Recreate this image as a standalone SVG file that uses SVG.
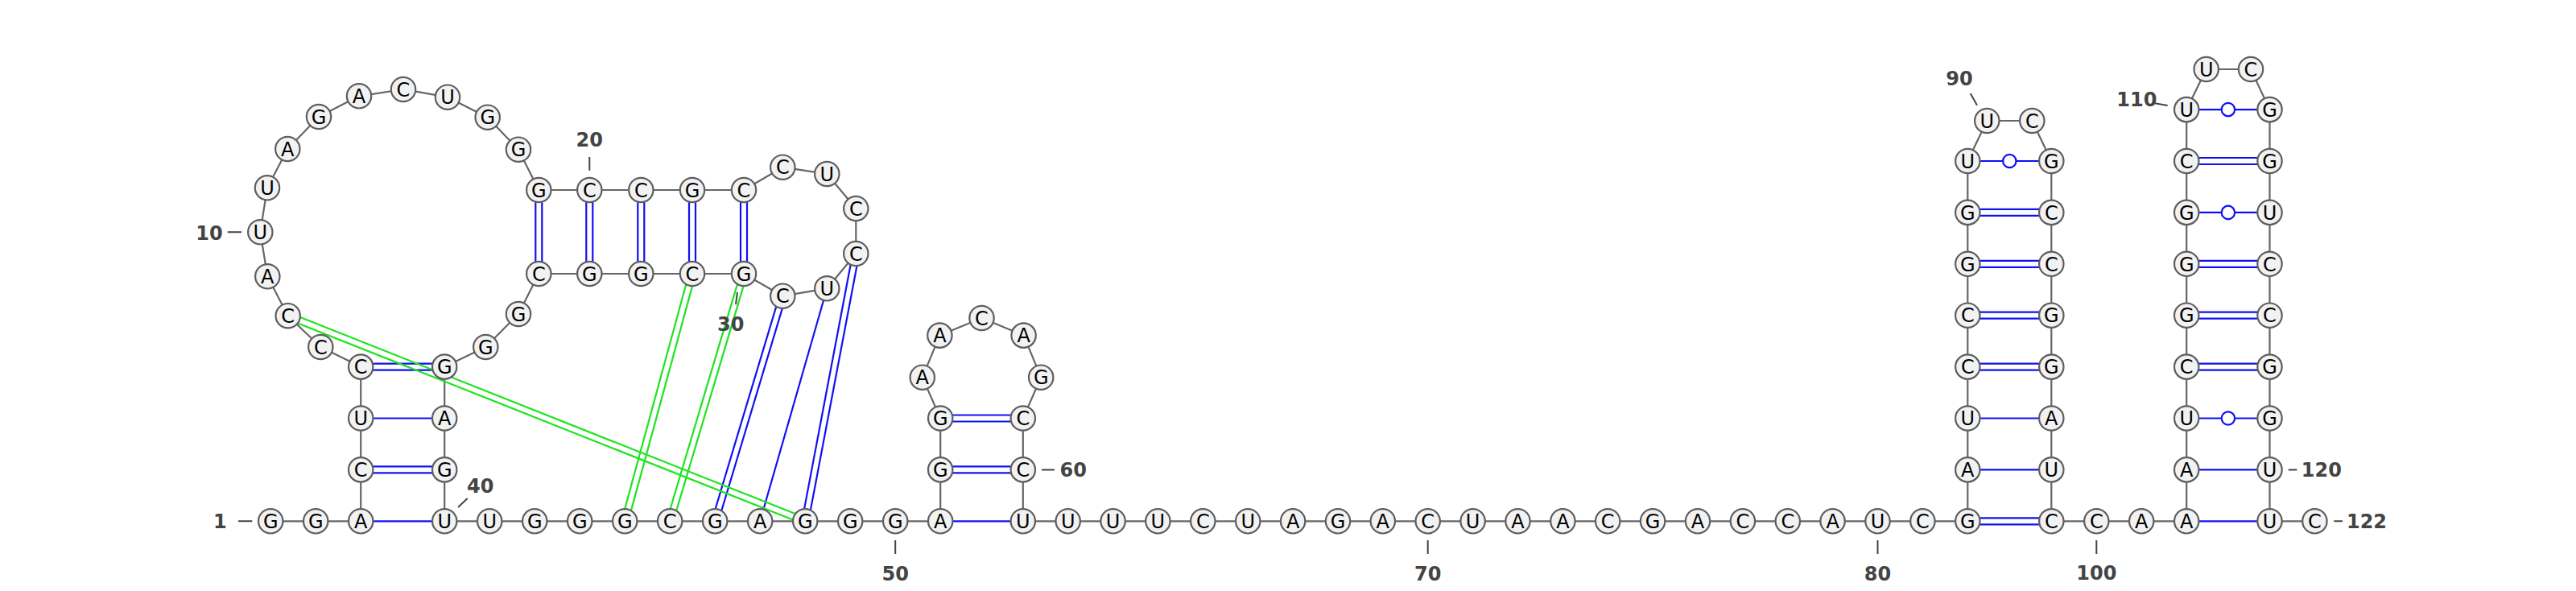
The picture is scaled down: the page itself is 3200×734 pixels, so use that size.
<svg xmlns="http://www.w3.org/2000/svg" width="3200" height="734" viewBox="0 0 3200 734">
<style>
.bb{fill:none;stroke:#666;stroke-width:2.2;stroke-linejoin:round}
.bp{stroke:#1010f5;stroke-width:2.2;fill:none}
.pk{stroke:#1ee41e;stroke-width:2.2;fill:none}
.wb{fill:#fff;stroke:#1010f5;stroke-width:2.2}
.tk{stroke:#444;stroke-width:2;fill:none}
.nt circle{fill:#f2f2f2;stroke:#5e5e5e;stroke-width:2.2}
.nt text{font-family:"DejaVu Sans",sans-serif;font-size:24px;text-anchor:middle;fill:#000}
.lb{font-family:"DejaVu Sans",sans-serif;font-size:24px;font-weight:bold;text-anchor:middle;fill:#444}
</style>
<rect width="3200" height="734" fill="#fff"/>
<g id="connectors">
<path class="bb" d="M336.2,647.3 L448.2,647.3 L448.2,455.6 L398.3,431 L357.7,392.2 L332.3,343.3 L323.3,288.3 L332,233.3 L357.3,185 L396,145 L446,119.3 L501,111 L556,120.7 L605.7,145.7 L644,185.7 L669.3,236 L924,236 L972.3,207.7 L1027.3,216 L1063.3,259 L1063.3,315 L1027.3,358.3 L972.3,367.7 L924,340 L669.3,340 L644,390 L603.3,431 L552.2,455.6 L552.2,647.3 L1168.2,647.3 L1168.2,519.5 L1145.8,468.7 L1167.4,416.6 L1219.5,395 L1271.6,416.6 L1293.2,468.7 L1270.8,519.5 L1270.8,647.3 L2444.3,647.3 L2444.3,200 L2468.3,150 L2524.3,150 L2548.3,200 L2548.3,647.3 L2716.2,647.3 L2716.2,136.1 L2740.7,86 L2796,86 L2819.5,136.1 L2819.5,647.3 L2875.4,647.3"/>
<g id="pairs">
<path class="bp" d="M448.2,647.3H552.2"/>
<path class="bp" d="M448.2,579.4H552.2M448.2,587.4H552.2"/>
<path class="bp" d="M448.2,519.5H552.2"/>
<path class="bp" d="M448.2,451.6H552.2M448.2,459.6H552.2"/>
<path class="bp" d="M665.3,236V340M673.3,236V340"/>
<path class="bp" d="M728.3,236V340M736.3,236V340"/>
<path class="bp" d="M792.3,236V340M800.3,236V340"/>
<path class="bp" d="M856,236V340M864,236V340"/>
<path class="bp" d="M920,236V340M928,236V340"/>
<path class="bp" d="M1168.2,647.3H1270.8"/>
<path class="bp" d="M1168.2,579.4H1270.8M1168.2,587.4H1270.8"/>
<path class="bp" d="M1168.2,515.5H1270.8M1168.2,523.5H1270.8"/>
<path class="bp" d="M2444.3,643.3H2548.3M2444.3,651.3H2548.3"/>
<path class="bp" d="M2444.3,583.4H2548.3"/>
<path class="bp" d="M2444.3,519.5H2548.3"/>
<path class="bp" d="M2444.3,451.6H2548.3M2444.3,459.6H2548.3"/>
<path class="bp" d="M2444.3,387.7H2548.3M2444.3,395.7H2548.3"/>
<path class="bp" d="M2444.3,323.8H2548.3M2444.3,331.8H2548.3"/>
<path class="bp" d="M2444.3,259.9H2548.3M2444.3,267.9H2548.3"/>
<path class="bp" d="M2444.3,200H2548.3"/>
<circle class="wb" cx="2496.3" cy="200" r="8.2"/>
<path class="bp" d="M2716.2,647.3H2819.5"/>
<path class="bp" d="M2716.2,583.4H2819.5"/>
<path class="bp" d="M2716.2,519.5H2819.5"/>
<circle class="wb" cx="2767.9" cy="519.5" r="8.2"/>
<path class="bp" d="M2716.2,451.6H2819.5M2716.2,459.6H2819.5"/>
<path class="bp" d="M2716.2,387.7H2819.5M2716.2,395.7H2819.5"/>
<path class="bp" d="M2716.2,323.8H2819.5M2716.2,331.8H2819.5"/>
<path class="bp" d="M2716.2,263.9H2819.5"/>
<circle class="wb" cx="2767.9" cy="263.9" r="8.2"/>
<path class="bp" d="M2716.2,196H2819.5M2716.2,204H2819.5"/>
<path class="bp" d="M2716.2,136.1H2819.5"/>
<circle class="wb" cx="2767.9" cy="136.1" r="8.2"/>
<path class="bp" d="M1067.2,315.7L1004.1,648M1059.4,314.3L996.3,646.6"/>
<path class="bp" d="M1027.3,358.3L944.2,647.3"/>
<path class="bp" d="M976.1,368.9L892,648.5M968.5,366.6L884.4,646.2"/>
<path class="pk" d="M927.8,341.1L836,648.4M920.2,338.9L828.4,646.2"/>
<path class="pk" d="M863.9,341.1L780.1,648.4M856.1,339L772.3,646.3"/>
<path class="pk" d="M356.2,395.9L998.7,651M359.2,388.5L1001.7,643.6"/>
</g>
<g id="ticks">
<path class="tk" d="M296,647.3H313.3M282.7,288.3H300M732.3,195V211.7M916,363L914,378M569,630L580.7,619M1112.2,671V688M1294,583.4H1310M1773.7,671V688M2332.5,671V688M2447.7,116L2456,130.7M2604.3,671V688M2676.7,128.3L2692.7,131M2842.7,583.4H2853.3M2899.3,647.3H2910"/>
</g>
</g>
<g id="nodes">
<g id="n1" class="nt"><circle cx="336.2" cy="647.3" r="15.2"/><text x="336.2" y="656">G</text></g>
<g id="n2" class="nt"><circle cx="392.2" cy="647.3" r="15.2"/><text x="392.2" y="656">G</text></g>
<g id="n3" class="nt"><circle cx="448.2" cy="647.3" r="15.2"/><text x="448.2" y="656">A</text></g>
<g id="n4" class="nt"><circle cx="448.2" cy="583.4" r="15.2"/><text x="448.2" y="592.1">C</text></g>
<g id="n5" class="nt"><circle cx="448.2" cy="519.5" r="15.2"/><text x="448.2" y="528.2">U</text></g>
<g id="n6" class="nt"><circle cx="448.2" cy="455.6" r="15.2"/><text x="448.2" y="464.3">C</text></g>
<g id="n7" class="nt"><circle cx="398.3" cy="431" r="15.2"/><text x="398.3" y="439.7">C</text></g>
<g id="n8" class="nt"><circle cx="357.7" cy="392.2" r="15.2"/><text x="357.7" y="400.9">C</text></g>
<g id="n9" class="nt"><circle cx="332.3" cy="343.3" r="15.2"/><text x="332.3" y="352">A</text></g>
<g id="n10" class="nt"><circle cx="323.3" cy="288.3" r="15.2"/><text x="323.3" y="297">U</text></g>
<g id="n11" class="nt"><circle cx="332" cy="233.3" r="15.2"/><text x="332" y="242">U</text></g>
<g id="n12" class="nt"><circle cx="357.3" cy="185" r="15.2"/><text x="357.3" y="193.7">A</text></g>
<g id="n13" class="nt"><circle cx="396" cy="145" r="15.2"/><text x="396" y="153.7">G</text></g>
<g id="n14" class="nt"><circle cx="446" cy="119.3" r="15.2"/><text x="446" y="128">A</text></g>
<g id="n15" class="nt"><circle cx="501" cy="111" r="15.2"/><text x="501" y="119.7">C</text></g>
<g id="n16" class="nt"><circle cx="556" cy="120.7" r="15.2"/><text x="556" y="129.4">U</text></g>
<g id="n17" class="nt"><circle cx="605.7" cy="145.7" r="15.2"/><text x="605.7" y="154.4">G</text></g>
<g id="n18" class="nt"><circle cx="644" cy="185.7" r="15.2"/><text x="644" y="194.4">G</text></g>
<g id="n19" class="nt"><circle cx="669.3" cy="236" r="15.2"/><text x="669.3" y="244.7">G</text></g>
<g id="n20" class="nt"><circle cx="732.3" cy="236" r="15.2"/><text x="732.3" y="244.7">C</text></g>
<g id="n21" class="nt"><circle cx="796.3" cy="236" r="15.2"/><text x="796.3" y="244.7">C</text></g>
<g id="n22" class="nt"><circle cx="860" cy="236" r="15.2"/><text x="860" y="244.7">G</text></g>
<g id="n23" class="nt"><circle cx="924" cy="236" r="15.2"/><text x="924" y="244.7">C</text></g>
<g id="n24" class="nt"><circle cx="972.3" cy="207.7" r="15.2"/><text x="972.3" y="216.4">C</text></g>
<g id="n25" class="nt"><circle cx="1027.3" cy="216" r="15.2"/><text x="1027.3" y="224.7">U</text></g>
<g id="n26" class="nt"><circle cx="1063.3" cy="259" r="15.2"/><text x="1063.3" y="267.7">C</text></g>
<g id="n27" class="nt"><circle cx="1063.3" cy="315" r="15.2"/><text x="1063.3" y="323.7">C</text></g>
<g id="n28" class="nt"><circle cx="1027.3" cy="358.3" r="15.2"/><text x="1027.3" y="367">U</text></g>
<g id="n29" class="nt"><circle cx="972.3" cy="367.7" r="15.2"/><text x="972.3" y="376.4">C</text></g>
<g id="n30" class="nt"><circle cx="924" cy="340" r="15.2"/><text x="924" y="348.7">G</text></g>
<g id="n31" class="nt"><circle cx="860" cy="340" r="15.2"/><text x="860" y="348.7">C</text></g>
<g id="n32" class="nt"><circle cx="796.3" cy="340" r="15.2"/><text x="796.3" y="348.7">G</text></g>
<g id="n33" class="nt"><circle cx="732.3" cy="340" r="15.2"/><text x="732.3" y="348.7">G</text></g>
<g id="n34" class="nt"><circle cx="669.3" cy="340" r="15.2"/><text x="669.3" y="348.7">C</text></g>
<g id="n35" class="nt"><circle cx="644" cy="390" r="15.2"/><text x="644" y="398.7">G</text></g>
<g id="n36" class="nt"><circle cx="603.3" cy="431" r="15.2"/><text x="603.3" y="439.7">G</text></g>
<g id="n37" class="nt"><circle cx="552.2" cy="455.6" r="15.2"/><text x="552.2" y="464.3">G</text></g>
<g id="n38" class="nt"><circle cx="552.2" cy="519.5" r="15.2"/><text x="552.2" y="528.2">A</text></g>
<g id="n39" class="nt"><circle cx="552.2" cy="583.4" r="15.2"/><text x="552.2" y="592.1">G</text></g>
<g id="n40" class="nt"><circle cx="552.2" cy="647.3" r="15.2"/><text x="552.2" y="656">U</text></g>
<g id="n41" class="nt"><circle cx="608.2" cy="647.3" r="15.2"/><text x="608.2" y="656">U</text></g>
<g id="n42" class="nt"><circle cx="664.2" cy="647.3" r="15.2"/><text x="664.2" y="656">G</text></g>
<g id="n43" class="nt"><circle cx="720.2" cy="647.3" r="15.2"/><text x="720.2" y="656">G</text></g>
<g id="n44" class="nt"><circle cx="776.2" cy="647.3" r="15.2"/><text x="776.2" y="656">G</text></g>
<g id="n45" class="nt"><circle cx="832.2" cy="647.3" r="15.2"/><text x="832.2" y="656">C</text></g>
<g id="n46" class="nt"><circle cx="888.2" cy="647.3" r="15.2"/><text x="888.2" y="656">G</text></g>
<g id="n47" class="nt"><circle cx="944.2" cy="647.3" r="15.2"/><text x="944.2" y="656">A</text></g>
<g id="n48" class="nt"><circle cx="1000.2" cy="647.3" r="15.2"/><text x="1000.2" y="656">G</text></g>
<g id="n49" class="nt"><circle cx="1056.2" cy="647.3" r="15.2"/><text x="1056.2" y="656">G</text></g>
<g id="n50" class="nt"><circle cx="1112.2" cy="647.3" r="15.2"/><text x="1112.2" y="656">G</text></g>
<g id="n51" class="nt"><circle cx="1168.2" cy="647.3" r="15.2"/><text x="1168.2" y="656">A</text></g>
<g id="n52" class="nt"><circle cx="1168.2" cy="583.4" r="15.2"/><text x="1168.2" y="592.1">G</text></g>
<g id="n53" class="nt"><circle cx="1168.2" cy="519.5" r="15.2"/><text x="1168.2" y="528.2">G</text></g>
<g id="n54" class="nt"><circle cx="1145.8" cy="468.7" r="15.2"/><text x="1145.8" y="477.4">A</text></g>
<g id="n55" class="nt"><circle cx="1167.4" cy="416.6" r="15.2"/><text x="1167.4" y="425.3">A</text></g>
<g id="n56" class="nt"><circle cx="1219.5" cy="395" r="15.2"/><text x="1219.5" y="403.7">C</text></g>
<g id="n57" class="nt"><circle cx="1271.6" cy="416.6" r="15.2"/><text x="1271.6" y="425.3">A</text></g>
<g id="n58" class="nt"><circle cx="1293.2" cy="468.7" r="15.2"/><text x="1293.2" y="477.4">G</text></g>
<g id="n59" class="nt"><circle cx="1270.8" cy="519.5" r="15.2"/><text x="1270.8" y="528.2">C</text></g>
<g id="n60" class="nt"><circle cx="1270.8" cy="583.4" r="15.2"/><text x="1270.8" y="592.1">C</text></g>
<g id="n61" class="nt"><circle cx="1270.8" cy="647.3" r="15.2"/><text x="1270.8" y="656">U</text></g>
<g id="n62" class="nt"><circle cx="1326.7" cy="647.3" r="15.2"/><text x="1326.7" y="656">U</text></g>
<g id="n63" class="nt"><circle cx="1382.6" cy="647.3" r="15.2"/><text x="1382.6" y="656">U</text></g>
<g id="n64" class="nt"><circle cx="1438.4" cy="647.3" r="15.2"/><text x="1438.4" y="656">U</text></g>
<g id="n65" class="nt"><circle cx="1494.3" cy="647.3" r="15.2"/><text x="1494.3" y="656">C</text></g>
<g id="n66" class="nt"><circle cx="1550.2" cy="647.3" r="15.2"/><text x="1550.2" y="656">U</text></g>
<g id="n67" class="nt"><circle cx="1606.1" cy="647.3" r="15.2"/><text x="1606.1" y="656">A</text></g>
<g id="n68" class="nt"><circle cx="1662" cy="647.3" r="15.2"/><text x="1662" y="656">G</text></g>
<g id="n69" class="nt"><circle cx="1717.8" cy="647.3" r="15.2"/><text x="1717.8" y="656">A</text></g>
<g id="n70" class="nt"><circle cx="1773.7" cy="647.3" r="15.2"/><text x="1773.7" y="656">C</text></g>
<g id="n71" class="nt"><circle cx="1829.6" cy="647.3" r="15.2"/><text x="1829.6" y="656">U</text></g>
<g id="n72" class="nt"><circle cx="1885.5" cy="647.3" r="15.2"/><text x="1885.5" y="656">A</text></g>
<g id="n73" class="nt"><circle cx="1941.4" cy="647.3" r="15.2"/><text x="1941.4" y="656">A</text></g>
<g id="n74" class="nt"><circle cx="1997.2" cy="647.3" r="15.2"/><text x="1997.2" y="656">C</text></g>
<g id="n75" class="nt"><circle cx="2053.1" cy="647.3" r="15.2"/><text x="2053.1" y="656">G</text></g>
<g id="n76" class="nt"><circle cx="2109" cy="647.3" r="15.2"/><text x="2109" y="656">A</text></g>
<g id="n77" class="nt"><circle cx="2164.9" cy="647.3" r="15.2"/><text x="2164.9" y="656">C</text></g>
<g id="n78" class="nt"><circle cx="2220.8" cy="647.3" r="15.2"/><text x="2220.8" y="656">C</text></g>
<g id="n79" class="nt"><circle cx="2276.6" cy="647.3" r="15.2"/><text x="2276.6" y="656">A</text></g>
<g id="n80" class="nt"><circle cx="2332.5" cy="647.3" r="15.2"/><text x="2332.5" y="656">U</text></g>
<g id="n81" class="nt"><circle cx="2388.4" cy="647.3" r="15.2"/><text x="2388.4" y="656">C</text></g>
<g id="n82" class="nt"><circle cx="2444.3" cy="647.3" r="15.2"/><text x="2444.3" y="656">G</text></g>
<g id="n83" class="nt"><circle cx="2444.3" cy="583.4" r="15.2"/><text x="2444.3" y="592.1">A</text></g>
<g id="n84" class="nt"><circle cx="2444.3" cy="519.5" r="15.2"/><text x="2444.3" y="528.2">U</text></g>
<g id="n85" class="nt"><circle cx="2444.3" cy="455.6" r="15.2"/><text x="2444.3" y="464.3">C</text></g>
<g id="n86" class="nt"><circle cx="2444.3" cy="391.7" r="15.2"/><text x="2444.3" y="400.4">C</text></g>
<g id="n87" class="nt"><circle cx="2444.3" cy="327.8" r="15.2"/><text x="2444.3" y="336.5">G</text></g>
<g id="n88" class="nt"><circle cx="2444.3" cy="263.9" r="15.2"/><text x="2444.3" y="272.6">G</text></g>
<g id="n89" class="nt"><circle cx="2444.3" cy="200" r="15.2"/><text x="2444.3" y="208.7">U</text></g>
<g id="n90" class="nt"><circle cx="2468.3" cy="150" r="15.2"/><text x="2468.3" y="158.7">U</text></g>
<g id="n91" class="nt"><circle cx="2524.3" cy="150" r="15.2"/><text x="2524.3" y="158.7">C</text></g>
<g id="n92" class="nt"><circle cx="2548.3" cy="200" r="15.2"/><text x="2548.3" y="208.7">G</text></g>
<g id="n93" class="nt"><circle cx="2548.3" cy="263.9" r="15.2"/><text x="2548.3" y="272.6">C</text></g>
<g id="n94" class="nt"><circle cx="2548.3" cy="327.8" r="15.2"/><text x="2548.3" y="336.5">C</text></g>
<g id="n95" class="nt"><circle cx="2548.3" cy="391.7" r="15.2"/><text x="2548.3" y="400.4">G</text></g>
<g id="n96" class="nt"><circle cx="2548.3" cy="455.6" r="15.2"/><text x="2548.3" y="464.3">G</text></g>
<g id="n97" class="nt"><circle cx="2548.3" cy="519.5" r="15.2"/><text x="2548.3" y="528.2">A</text></g>
<g id="n98" class="nt"><circle cx="2548.3" cy="583.4" r="15.2"/><text x="2548.3" y="592.1">U</text></g>
<g id="n99" class="nt"><circle cx="2548.3" cy="647.3" r="15.2"/><text x="2548.3" y="656">C</text></g>
<g id="n100" class="nt"><circle cx="2604.3" cy="647.3" r="15.2"/><text x="2604.3" y="656">C</text></g>
<g id="n101" class="nt"><circle cx="2660.2" cy="647.3" r="15.2"/><text x="2660.2" y="656">A</text></g>
<g id="n102" class="nt"><circle cx="2716.2" cy="647.3" r="15.2"/><text x="2716.2" y="656">A</text></g>
<g id="n103" class="nt"><circle cx="2716.2" cy="583.4" r="15.2"/><text x="2716.2" y="592.1">A</text></g>
<g id="n104" class="nt"><circle cx="2716.2" cy="519.5" r="15.2"/><text x="2716.2" y="528.2">U</text></g>
<g id="n105" class="nt"><circle cx="2716.2" cy="455.6" r="15.2"/><text x="2716.2" y="464.3">C</text></g>
<g id="n106" class="nt"><circle cx="2716.2" cy="391.7" r="15.2"/><text x="2716.2" y="400.4">G</text></g>
<g id="n107" class="nt"><circle cx="2716.2" cy="327.8" r="15.2"/><text x="2716.2" y="336.5">G</text></g>
<g id="n108" class="nt"><circle cx="2716.2" cy="263.9" r="15.2"/><text x="2716.2" y="272.6">G</text></g>
<g id="n109" class="nt"><circle cx="2716.2" cy="200" r="15.2"/><text x="2716.2" y="208.7">C</text></g>
<g id="n110" class="nt"><circle cx="2716.2" cy="136.1" r="15.2"/><text x="2716.2" y="144.8">U</text></g>
<g id="n111" class="nt"><circle cx="2740.7" cy="86" r="15.2"/><text x="2740.7" y="94.7">U</text></g>
<g id="n112" class="nt"><circle cx="2796" cy="86" r="15.2"/><text x="2796" y="94.7">C</text></g>
<g id="n113" class="nt"><circle cx="2819.5" cy="136.1" r="15.2"/><text x="2819.5" y="144.8">G</text></g>
<g id="n114" class="nt"><circle cx="2819.5" cy="200" r="15.2"/><text x="2819.5" y="208.7">G</text></g>
<g id="n115" class="nt"><circle cx="2819.5" cy="263.9" r="15.2"/><text x="2819.5" y="272.6">U</text></g>
<g id="n116" class="nt"><circle cx="2819.5" cy="327.8" r="15.2"/><text x="2819.5" y="336.5">C</text></g>
<g id="n117" class="nt"><circle cx="2819.5" cy="391.7" r="15.2"/><text x="2819.5" y="400.4">C</text></g>
<g id="n118" class="nt"><circle cx="2819.5" cy="455.6" r="15.2"/><text x="2819.5" y="464.3">G</text></g>
<g id="n119" class="nt"><circle cx="2819.5" cy="519.5" r="15.2"/><text x="2819.5" y="528.2">G</text></g>
<g id="n120" class="nt"><circle cx="2819.5" cy="583.4" r="15.2"/><text x="2819.5" y="592.1">U</text></g>
<g id="n121" class="nt"><circle cx="2819.5" cy="647.3" r="15.2"/><text x="2819.5" y="656">U</text></g>
<g id="n122" class="nt"><circle cx="2875.4" cy="647.3" r="15.2"/><text x="2875.4" y="656">C</text></g>
</g>
<g id="labels">
<text class="lb" x="273.3" y="656">1</text>
<text class="lb" x="260" y="297.5">10</text>
<text class="lb" x="732.3" y="182">20</text>
<text class="lb" x="907.8" y="410.7">30</text>
<text class="lb" x="596.7" y="612">40</text>
<text class="lb" x="1112.2" y="720.7">50</text>
<text class="lb" x="1333.3" y="592.1">60</text>
<text class="lb" x="1773.7" y="720.7">70</text>
<text class="lb" x="2332.5" y="720.7">80</text>
<text class="lb" x="2434" y="106">90</text>
<text class="lb" x="2604.3" y="720.2">100</text>
<text class="lb" x="2654.3" y="132">110</text>
<text class="lb" x="2883.8" y="592.1">120</text>
<text class="lb" x="2940" y="656">122</text>
</g>
</svg>
